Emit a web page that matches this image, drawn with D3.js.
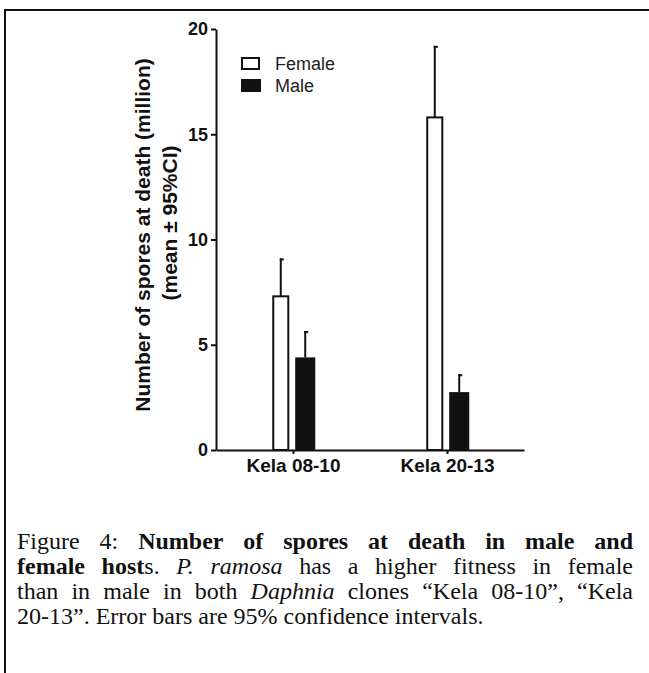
<!DOCTYPE html>
<meta charset="utf-8">
<style>
body { margin: 0; background: #fff; }
svg { display: block; }
.tick-label { font: bold 18px "Liberation Sans", Arial, sans-serif; }
.cat-label { font: bold 19px "Liberation Sans", Arial, sans-serif; }
.legend { font: 18px "Liberation Sans", Arial, sans-serif; }
.ylab { font: bold 21px "Liberation Sans", Arial, sans-serif; }
.caption { font-family: "Liberation Serif", "Times New Roman", serif; font-size: 24px; }
</style>
<body>
<script src="https://cdnjs.cloudflare.com/ajax/libs/d3/7.8.5/d3.min.js"></script>
<script>
// data (million spores)
var clones = ["Kela 08-10", "Kela 20-13"];
var sexes = ["Female", "Male"];
var femaleMean = [7.3, 15.8];
var femaleUpper = [9.1, 19.2];
var maleMean = [4.4, 2.75];
var maleUpper = [5.65, 3.6];
var yTicks = [0, 5, 10, 15, 20];

var W = 649, H = 673;

var svg = d3.select("body").append("svg")
    .attr("width", W)
    .attr("height", H);

// frame (top and left only, like the page crop)
svg.append("line").attr("x1", 5).attr("x2", W).attr("y1", 10).attr("y2", 10)
    .attr("stroke", "#111").attr("stroke-width", 2);
svg.append("line").attr("x1", 5).attr("x2", 5).attr("y1", 9).attr("y2", H)
    .attr("stroke", "#111").attr("stroke-width", 2);

// scales
var x0 = d3.scalePoint().domain(clones).range([216, 524]).padding(0.5);
var x1 = d3.scaleBand().domain(sexes).range([-22.25, 22.25]).paddingInner(0.18);
var y = d3.scaleLinear().domain([0, 20]).range([450, 29]);

var rows = clones.map(function(c, i) {
  return [
    {clone: c, sex: "Female", mean: femaleMean[i], upper: femaleUpper[i]},
    {clone: c, sex: "Male", mean: maleMean[i], upper: maleUpper[i]}
  ];
});
var flat = d3.merge(rows);

// y axis
var yAxis = svg.append("g")
    .attr("transform", "translate(216,0)")
    .call(d3.axisLeft(y).tickValues(yTicks).tickSize(5).tickPadding(3).tickSizeOuter(0));
yAxis.select(".domain").attr("stroke-width", 2).attr("stroke", "#111");
yAxis.selectAll(".tick line").attr("stroke-width", 2).attr("stroke", "#111");
yAxis.selectAll(".tick text").attr("class", "tick-label").attr("fill", "#111");

// x axis
var xAxis = svg.append("g")
    .attr("transform", "translate(0,450)")
    .call(d3.axisBottom(x0).tickSize(4).tickPadding(5).tickSizeOuter(0));
xAxis.select(".domain").attr("stroke-width", 2).attr("stroke", "#111");
xAxis.selectAll(".tick line").attr("stroke-width", 2).attr("stroke", "#111");
xAxis.selectAll(".tick text").attr("class", "cat-label").attr("fill", "#111");

// error bars (upper half only)
var errs = svg.append("g").selectAll("g").data(flat).enter().append("g");
errs.append("line")
    .attr("x1", function(d) { return x0(d.clone) + x1(d.sex) + x1.bandwidth() / 2; })
    .attr("x2", function(d) { return x0(d.clone) + x1(d.sex) + x1.bandwidth() / 2; })
    .attr("y1", function(d) { return y(d.mean); })
    .attr("y2", function(d) { return y(d.upper); })
    .attr("stroke", "#111").attr("stroke-width", 2);
errs.append("line")
    .attr("x1", function(d) { return x0(d.clone) + x1(d.sex) + x1.bandwidth() / 2 - 1; })
    .attr("x2", function(d) { return x0(d.clone) + x1(d.sex) + x1.bandwidth() / 2 + 3; })
    .attr("y1", function(d) { return y(d.upper) + 1; })
    .attr("y2", function(d) { return y(d.upper) + 1; })
    .attr("stroke", "#111").attr("stroke-width", 2);

// bars
svg.append("g").selectAll("rect").data(flat).enter().append("rect")
    .attr("x", function(d) {
      return x0(d.clone) + x1(d.sex) + (d.sex == "Female" ? 2.5 : 0);
    })
    .attr("width", function(d) { return d.sex == "Female" ? x1.bandwidth() - 5 : x1.bandwidth(); })
    .attr("y", function(d) { return y(d.mean); })
    .attr("height", function(d) { return y(0) - y(d.mean); })
    .attr("fill", function(d) { return d.sex == "Female" ? "#fff" : "#111"; })
    .attr("stroke", "#111")
    .attr("stroke-width", function(d) { return d.sex == "Female" ? 2 : 0; });

// legend
var legend = svg.append("g").selectAll("g").data(sexes).enter().append("g")
    .attr("transform", function(d, i) { return "translate(242," + (58 + i * 22) + ")"; });
legend.append("rect")
    .attr("x", function(d) { return d == "Female" ? 0 : -1; })
    .attr("y", function(d) { return d == "Female" ? 0 : -1; })
    .attr("width", function(d) { return d == "Female" ? 17 : 20; })
    .attr("height", function(d) { return d == "Female" ? 11 : 13; })
    .attr("fill", function(d) { return d == "Female" ? "#fff" : "#111"; })
    .attr("stroke", "#111")
    .attr("stroke-width", function(d) { return d == "Female" ? 2 : 0; });
legend.append("text")
    .attr("class", "legend")
    .attr("x", 33)
    .attr("y", 12)
    .attr("fill", "#222")
    .text(function(d) { return d; });

// y axis title, two lines
svg.append("text")
    .attr("class", "ylab")
    .attr("transform", "translate(150,235) rotate(-90)")
    .attr("text-anchor", "middle")
    .attr("fill", "#111")
    .text("Number of spores at death (million)");
svg.append("text")
    .attr("class", "ylab")
    .attr("transform", "translate(177,223) rotate(-90)")
    .attr("text-anchor", "middle")
    .attr("fill", "#111")
    .text("(mean \u00b1 95%CI)");

// caption, justified like the document
var captionLines = [
  [["Figure 4: ", "n"], ["Number of spores at death in male and", "b"]],
  [["female host", "b"], ["s. ", "n"], ["P. ramosa", "i"], [" has a higher fitness in female", "n"]],
  [["than in male in both ", "n"], ["Daphnia", "i"], [" clones \u201cKela 08-10\u201d, \u201cKela", "n"]],
  [["20-13\u201d. Error bars are 95% confidence intervals.", "n"]]
];
var capLeft = 17, capRight = 633, capTop = 549, capStep = 25;

function styleText(sel, kind) {
  sel.attr("class", "caption")
     .attr("font-weight", kind == "b" ? "bold" : "normal")
     .attr("font-style", kind == "i" ? "italic" : "normal")
     .attr("fill", "#111");
}

var cap = svg.append("g");
captionLines.forEach(function(runs, li) {
  // break runs into words, each word a list of styled pieces
  var words = [[]];
  runs.forEach(function(r) {
    var parts = r[0].split(" ");
    parts.forEach(function(p, k) {
      if (k > 0) words.push([]);
      if (p.length) words[words.length - 1].push({t: p, k: r[1]});
    });
  });
  words = words.filter(function(w) { return w.length; });

  var widths = words.map(function(w) {
    return d3.sum(w, function(p) {
      var t = cap.append("text").text(p.t).call(styleText, p.k);
      var len = t.node().getComputedTextLength();
      t.remove();
      p.w = len;
      return len;
    });
  });
  var total = d3.sum(widths);
  var justify = li < captionLines.length - 1;
  var space = justify ? (capRight - capLeft - total) / (words.length - 1) : 6;

  var xpos = capLeft;
  words.forEach(function(w, wi) {
    w.forEach(function(p) {
      cap.append("text")
         .attr("x", xpos)
         .attr("y", capTop + li * capStep)
         .text(p.t)
         .call(styleText, p.k);
      xpos += p.w;
    });
    xpos += space;
  });
});
</script>
</body>
